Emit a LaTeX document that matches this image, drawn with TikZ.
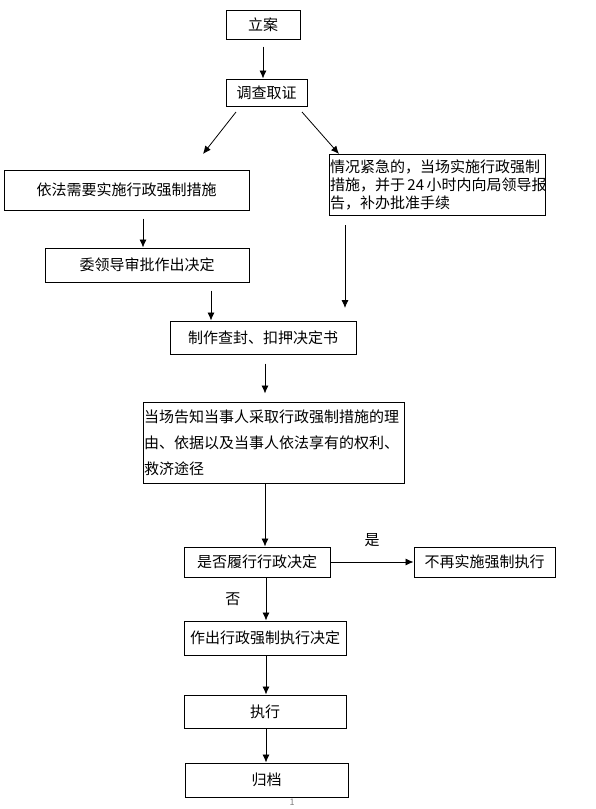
\documentclass[tikz,border=0pt]{standalone}
\usepackage{fontspec}
\setmainfont{Noto Sans CJK SC}
\usepackage{tikz}
\usetikzlibrary{arrows.meta,calc}

\begin{document}
\begin{tikzpicture}[x=1pt,y=-1pt,
        box/.style={draw,line width=1pt,inner sep=1pt,font=\fontsize{15}{18}\selectfont},
        arr/.style={line width=0.8pt,-{Latex[length=8pt,width=7pt]}}]
        \useasboundingbox (0,0) rectangle (595,809);
        % boxes
        \node[box,minimum width=74pt,minimum height=29pt] (la) at (263,24.5) {立案};
        \node[box,minimum width=81pt,minimum height=27pt] (dc) at (266.5,92.5) {调查取证};
        \node[box,minimum width=245pt,minimum height=40pt] (yf) at (126.5,190) {依法需要实施行政强制措施};
        \node[box,text width=214pt,align=left,minimum height=61pt] (qk) at (437,184.5)
            {情况紧急的，当场实施行政强制\\措施，并于\,24\,小时内向局领导报\\告，补办批准手续};
        \node[box,minimum width=204pt,minimum height=34pt] (wl) at (147,265) {委领导审批作出决定};
        \node[box,minimum width=186pt,minimum height=33pt] (zz) at (263,337.5) {制作查封、扣押决定书};
        \node[box,text width=259pt,align=left,minimum height=81pt,font=\fontsize{15}{26}\selectfont] (gz) at (273.5,442.5)
            {当场告知当事人采取行政强制措施的理\\由、依据以及当事人依法享有的权利、\\救济途径};
        \node[box,minimum width=146pt,minimum height=30pt] (sf) at (257,562) {是否履行行政决定};
        \node[box,minimum width=141pt,minimum height=30pt] (bz) at (484.5,562) {不再实施强制执行};
        \node[box,minimum width=162pt,minimum height=34pt] (zc) at (265,638) {作出行政强制执行决定};
        \node[box,minimum width=162pt,minimum height=33pt] (zx) at (265,711.5) {执行};
        \node[box,minimum width=163pt,minimum height=34pt] (gd) at (266.5,780) {归档};
        % loose ends
        \coordinate (L1) at (236,112);
        \coordinate (L2) at (203,154);
        \coordinate (R1) at (302,112);
        \coordinate (R2) at (339,154);
        \coordinate (Q1) at (345,225);
        \coordinate (Q2) at (345,308);
        % connectors
        \draw[arr,shorten <=7pt] (la.south) -- (la.south |- dc.north);
        \draw[arr] (L1) -- (L2);
        \draw[arr] (R1) -- (R2);
        \draw[arr,shorten <=8pt] (yf.south -| 143,0) -- (wl.north -| 143,0);
        \draw[arr,shorten <=8pt] (wl.south -| 211,0) -- (zz.north -| 211,0);
        \draw[arr] (Q1) -- (Q2);
        \draw[arr,shorten <=9pt,shorten >=8pt] (zz.south -| 265,0) -- (gz.north -| 265,0);
        \draw[arr] (gz.south -| 265,0) -- (sf.north -| 265,0);
        \draw[arr] (sf.east) -- (bz.west) node[midway,above=12pt,font=\fontsize{15}{18}\selectfont] (yes) {是};
        \draw[arr] (sf.south -| 266,0) -- (zc.north -| 266,0) node[midway,left=22pt,font=\fontsize{15}{18}\selectfont] (no) {否};
        \draw[arr] (zc.south -| 266,0) -- (zx.north -| 266,0);
        \draw[arr] (zx.south -| 266,0) -- (gd.north -| 266,0);
        % page number
        \node[gray,font=\fontsize{9}{10}\selectfont] (pg) at (292,802) {1};
\end{tikzpicture}
\end{document}
